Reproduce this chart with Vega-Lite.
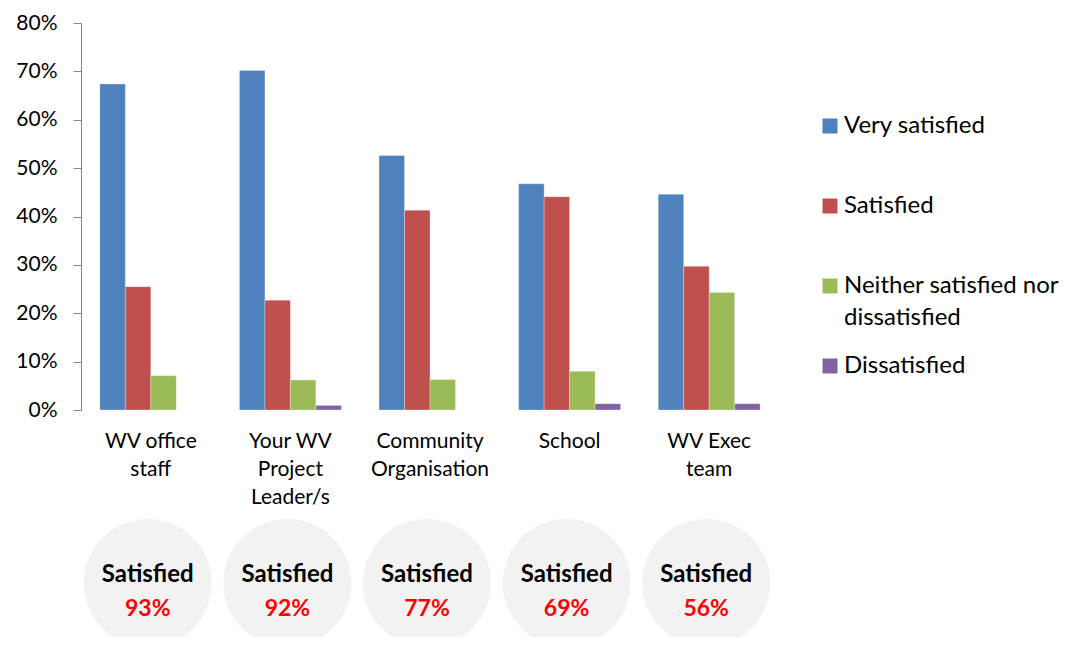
{
  "$schema": "https://vega.github.io/schema/vega-lite/v6.json",
  "padding": {"left": 15, "top": 12, "right": 0, "bottom": 0},
  "background": "#ffffff",
  "config": {
    "view": {"stroke": null},
    "font": "Lato",
    "concat": {"spacing": 0},
    "style": {"guide-label": {"lineHeight": 32}}
  },
  "datasets": {
    "bars": [
      {"category": "WV office staff", "response": "Very satisfied", "value": 0.674},
      {"category": "WV office staff", "response": "Satisfied", "value": 0.255},
      {"category": "WV office staff", "response": "Neither satisfied nor dissatisfied", "value": 0.071},
      {"category": "WV office staff", "response": "Dissatisfied", "value": 0},
      {"category": "Your WV Project Leader/s", "response": "Very satisfied", "value": 0.702},
      {"category": "Your WV Project Leader/s", "response": "Satisfied", "value": 0.227},
      {"category": "Your WV Project Leader/s", "response": "Neither satisfied nor dissatisfied", "value": 0.062},
      {"category": "Your WV Project Leader/s", "response": "Dissatisfied", "value": 0.0095},
      {"category": "Community Organisation", "response": "Very satisfied", "value": 0.526},
      {"category": "Community Organisation", "response": "Satisfied", "value": 0.413},
      {"category": "Community Organisation", "response": "Neither satisfied nor dissatisfied", "value": 0.063},
      {"category": "Community Organisation", "response": "Dissatisfied", "value": 0},
      {"category": "School", "response": "Very satisfied", "value": 0.4675},
      {"category": "School", "response": "Satisfied", "value": 0.441},
      {"category": "School", "response": "Neither satisfied nor dissatisfied", "value": 0.08},
      {"category": "School", "response": "Dissatisfied", "value": 0.013},
      {"category": "WV Exec team", "response": "Very satisfied", "value": 0.446},
      {"category": "WV Exec team", "response": "Satisfied", "value": 0.297},
      {"category": "WV Exec team", "response": "Neither satisfied nor dissatisfied", "value": 0.243},
      {"category": "WV Exec team", "response": "Dissatisfied", "value": 0.013}
    ],
    "overall": [
      {"category": "WV office staff", "label": "Satisfied", "satisfied": 0.93},
      {"category": "Your WV Project Leader/s", "label": "Satisfied", "satisfied": 0.92},
      {"category": "Community Organisation", "label": "Satisfied", "satisfied": 0.77},
      {"category": "School", "label": "Satisfied", "satisfied": 0.69},
      {"category": "WV Exec team", "label": "Satisfied", "satisfied": 0.56}
    ]
  },
  "vconcat": [
    {
      "width": 698,
      "height": 387,
      "data": {"name": "bars"},
      "mark": {"type": "bar", "stroke": "#ffffff", "strokeWidth": 0.6, "strokeOpacity": 0.5},
      "encoding": {
        "x": {
          "field": "category", "type": "nominal",
          "sort": ["WV office staff", "Your WV Project Leader/s", "Community Organisation", "School", "WV Exec team"],
          "scale": {"paddingInner": 0.27, "paddingOuter": 0.135},
          "axis": {
            "title": null, "labelAngle": 0, "ticks": false, "domain": false,
            "labelFontSize": 21, "labelColor": "#000000", "labelPadding": 20,
            "labelLineHeight": 28, "labelLimit": 300,
            "labelExpr": "datum.value == 'WV office staff' ? ['WV office', 'staff'] : datum.value == 'Your WV Project Leader/s' ? ['Your WV', 'Project', 'Leader/s'] : datum.value == 'Community Organisation' ? ['Community', 'Organisation'] : datum.value == 'WV Exec team' ? ['WV Exec', 'team'] : datum.value"
          }
        },
        "xOffset": {
          "field": "response", "type": "nominal",
          "sort": ["Very satisfied", "Satisfied", "Neither satisfied nor dissatisfied", "Dissatisfied"],
          "scale": {"paddingInner": 0, "paddingOuter": 0}
        },
        "y": {
          "field": "value", "type": "quantitative",
          "scale": {"domain": [0, 0.8], "nice": false},
          "axis": {
            "title": null, "format": ".0%", "values": [0, 0.1, 0.2, 0.3, 0.4, 0.5, 0.6, 0.7, 0.8],
            "grid": false, "domainColor": "#868686", "tickColor": "#868686", "tickSize": 8,
            "labelFontSize": 21, "labelColor": "#000000", "labelPadding": 16
          }
        },
        "color": {
          "field": "response", "type": "nominal",
          "scale": {
            "domain": ["Very satisfied", "Satisfied", "Neither satisfied nor dissatisfied", "Dissatisfied"],
            "range": ["#4f81bd", "#c0504d", "#9bbb59", "#8064a2"]
          },
          "legend": {
            "title": null, "orient": "none", "legendX": 737, "legendY": 91,
            "symbolType": "square", "symbolSize": 225, "symbolStrokeWidth": 0,
            "labelFontSize": 24, "labelColor": "#000000", "labelOffset": 2,
            "gridAlign": "all", "rowPadding": 24, "labelLimit": 400,
            "labelExpr": "datum.value == 'Neither satisfied nor dissatisfied' ? ['Neither satisfied nor', 'dissatisfied'] : datum.value"
          }
        }
      }
    },
    {
      "width": 698,
      "height": 130,
      "data": {"name": "overall"},
      "encoding": {
        "x": {
          "field": "category", "type": "nominal",
          "sort": ["WV office staff", "Your WV Project Leader/s", "Community Organisation", "School", "WV Exec team"],
          "scale": {"paddingInner": 0.27, "paddingOuter": 0.135},
          "axis": null
        }
      },
      "layer": [
        {
          "mark": {"type": "point", "shape": "circle", "filled": true, "size": 16384, "color": "#f2f2f2", "opacity": 1, "strokeWidth": 0, "yOffset": 11, "xOffset": -3, "clip": true}
        },
        {
          "mark": {"type": "text", "fontWeight": "bold", "fontSize": 24, "color": "#000000", "yOffset": 3, "xOffset": -3},
          "encoding": {"text": {"field": "label"}}
        },
        {
          "mark": {"type": "text", "fontWeight": "bold", "fontSize": 23, "color": "#ff0000", "yOffset": 37, "xOffset": -3},
          "encoding": {"text": {"field": "satisfied", "type": "quantitative", "format": ".0%"}}
        }
      ]
    }
  ]
}
